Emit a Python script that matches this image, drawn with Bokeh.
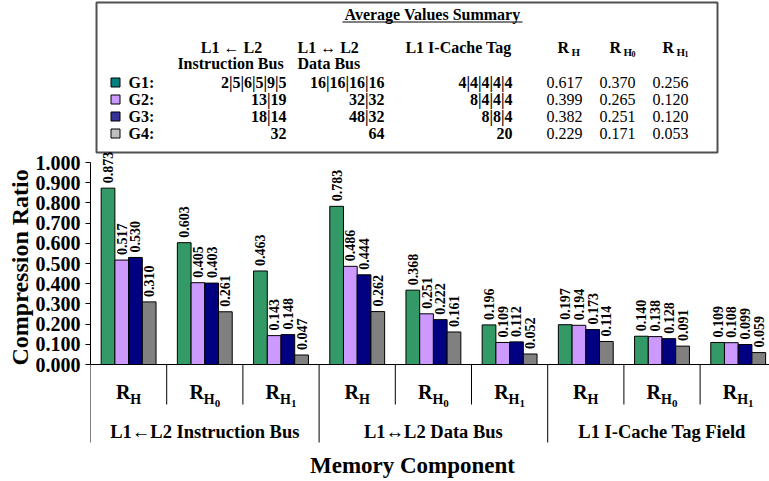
import math
from bokeh.plotting import figure
from bokeh.models import Range1d, FixedTicker, PrintfTickFormatter, Title
from bokeh.core.properties import value
from bokeh.embed import file_html
from bokeh.resources import INLINE

# ---------------- data ----------------
components = ["L1\u2190L2 Instruction Bus", "L1\u2194L2 Data Bus", "L1 I-Cache Tag Field"]
metric_sub = ["H", "H", "H"]
metric_subsub = ["", "0", "1"]
series_names = ["G1", "G2", "G3", "G4"]
g1 = [0.873, 0.603, 0.463, 0.783, 0.368, 0.196, 0.197, 0.140, 0.109]
g2 = [0.517, 0.405, 0.143, 0.486, 0.251, 0.109, 0.194, 0.138, 0.108]
g3 = [0.530, 0.403, 0.148, 0.444, 0.222, 0.112, 0.173, 0.128, 0.099]
g4 = [0.310, 0.261, 0.047, 0.262, 0.161, 0.052, 0.114, 0.091, 0.059]
bar_colors = ["#339966", "#CC99FF", "#000080", "#808080"]
legend_colors = ["#008080", "#CC99FF", "#333399", "#C0C0C0"]
y_ticks = [0.0, 0.1, 0.2, 0.3, 0.4, 0.5, 0.6, 0.7, 0.8, 0.9, 1.0]

table_title = "Average Values Summary"
cfg_ib = ["2|5|6|5|9|5", "13|19", "18|14", "32"]
cfg_db = ["16|16|16|16", "32|32", "48|32", "64"]
cfg_tag = ["4|4|4|4|4", "8|4|4|4", "8|8|4", "20"]
avg_rh = [0.617, 0.399, 0.382, 0.229]
avg_rh0 = [0.370, 0.265, 0.251, 0.171]
avg_rh1 = [0.256, 0.120, 0.120, 0.053]

# ---------------- layout helpers (page pixel -> data) ----------------
X0, GW = 90.0, 76.2
Y0, YS = 364.0, 202.0
def X(px):
    return (px - X0) / GW
def Y(py):
    return (Y0 - py) / YS

FONT = value("Liberation Serif")

p = figure(width=769, height=481, output_backend="svg", toolbar_location=None,
           x_range=Range1d(X(90), X(769)), y_range=Range1d(Y(481), Y(0)),
           x_axis_type=None, min_border_left=90, min_border_right=0,
           min_border_top=0, min_border_bottom=0)
p.outline_line_color = None
p.grid.visible = False
p.background_fill_color = "white"
p.border_fill_color = "white"

ax = p.yaxis[0]
ax.ticker = FixedTicker(ticks=y_ticks)
ax.formatter = PrintfTickFormatter(format="%.3f")
ax.bounds = (0, 1)
ax.major_tick_in = 0
ax.major_tick_out = 5
ax.minor_tick_line_color = None
ax.axis_line_color = "black"
ax.major_tick_line_color = "black"
ax.major_label_text_font = "Liberation Serif"
ax.major_label_text_font_style = "bold"
ax.major_label_text_font_size = "20px"
ax.major_label_text_color = "black"
ax.major_label_standoff = 5

p.add_layout(Title(text="Compression Ratio", align="left", offset=116,
                   text_font="Liberation Serif", text_font_style="bold",
                   text_font_size="24px", text_color="black", standoff=0), "left")

# ---------------- summary table ----------------
p.quad(left=[X(96)], right=[X(717)], top=[Y(2)], bottom=[Y(152)],
       fill_color="white", line_color="#505050", line_width=2)

def txt(xs, ys, texts, size, align="left", bold=True, **kw):
    p.text(x=xs, y=ys, text=texts, text_font=FONT,
           text_font_style="bold" if bold else "normal",
           text_font_size=size, text_align=align, text_baseline="middle",
           text_color="black", **kw)

txt([X(432)], [Y(14)], [table_title], "16px", align="center")
p.segment(x0=[X(342)], x1=[X(522)], y0=[Y(21.5)], y1=[Y(21.5)], line_color="black", line_width=1)

txt([X(231)], [Y(47)], ["L1 \u2190 L2"], "16px", align="center")
txt([X(230)], [Y(63)], ["Instruction Bus"], "16px", align="center")
txt([X(297)], [Y(47)], ["L1 \u2194 L2"], "16px")
txt([X(297)], [Y(63)], ["Data Bus"], "16px")
txt([X(511)], [Y(47)], ["L1 I-Cache Tag"], "16px", align="right")

hdr_x = [557, 609, 662]
txt([X(h) for h in hdr_x], [Y(47)] * 3, ["R"] * 3, "16px")
txt([X(h + 14) for h in hdr_x], [Y(51)] * 3, metric_sub, "11px")
txt([X(h + 22) for h in hdr_x], [Y(53)] * 3, metric_subsub, "8px")

row_mid = [82, 99, 116, 133]
p.rect(x=[X(115)] * 4, y=[Y(m) for m in row_mid], width=9, height=9,
       width_units="screen", height_units="screen",
       fill_color=legend_colors, line_color="black", line_width=1)
txt([X(128)] * 4, [Y(m) for m in row_mid], [s + ":" for s in series_names], "16px")
txt([X(286)] * 4, [Y(m) for m in row_mid], cfg_ib, "16px", align="right")
txt([X(384)] * 4, [Y(m) for m in row_mid], cfg_db, "16px", align="right")
txt([X(512)] * 4, [Y(m) for m in row_mid], cfg_tag, "16px", align="right")
for col, lx in zip([avg_rh, avg_rh0, avg_rh1], [546, 599, 652]):
    txt([X(lx)] * 4, [Y(m) for m in row_mid], ["%.3f" % v for v in col], "16px", bold=False)

# ---------------- bars ----------------
n = len(g1)
offsets = [-0.27, -0.09, 0.09, 0.27]
for vals, color, off in zip([g1, g2, g3, g4], bar_colors, offsets):
    xs = [i + 0.5 + off for i in range(n)]
    p.vbar(x=xs, top=vals, bottom=0, width=0.18, fill_color=color,
           line_color="black", line_width=1)
    p.text(x=xs, y=[v + 5 / YS for v in vals], text=["%.3f" % v for v in vals],
           angle=math.pi / 2, text_align="left", text_baseline="middle",
           text_font=FONT, text_font_style="bold", text_font_size="14px",
           text_color="black")

# ---------------- category axis (manual) ----------------
p.segment(x0=[0], x1=[n], y0=[0], y1=[0], line_color="black", line_width=1)
short = [k for k in range(n + 1) if k % 3 != 0]
long_ = [k for k in range(n + 1) if k % 3 == 0]
p.segment(x0=short, x1=short, y0=[0] * len(short), y1=[Y(404)] * len(short),
          line_color="black", line_width=1)
p.segment(x0=long_, x1=long_, y0=[0] * len(long_), y1=[Y(442)] * len(long_),
          line_color="black", line_width=1)

centers = [i + 0.5 for i in range(n)]
subs = [metric_sub[i % 3] for i in range(n)]
subsubs = [metric_subsub[i % 3] for i in range(n)]
r_off = [-12.7 if s == "" else -15.4 for s in subsubs]
h_off = [1.7 if s == "" else -1 for s in subsubs]
txt(centers, [Y(391)] * n, ["R"] * n, "20px", x_offset=r_off)
txt(centers, [Y(399)] * n, subs, "14px", x_offset=h_off)
txt(centers, [Y(403)] * n, subsubs, "11px", x_offset=[9.9] * n)

txt([1.5, 4.5, 7.5], [Y(431)] * 3, components, "18.5px", align="center")
txt([X(412)], [Y(465)], ["Memory Component"], "23px", align="center")

open("out.html", "w").write(file_html(p, INLINE))
